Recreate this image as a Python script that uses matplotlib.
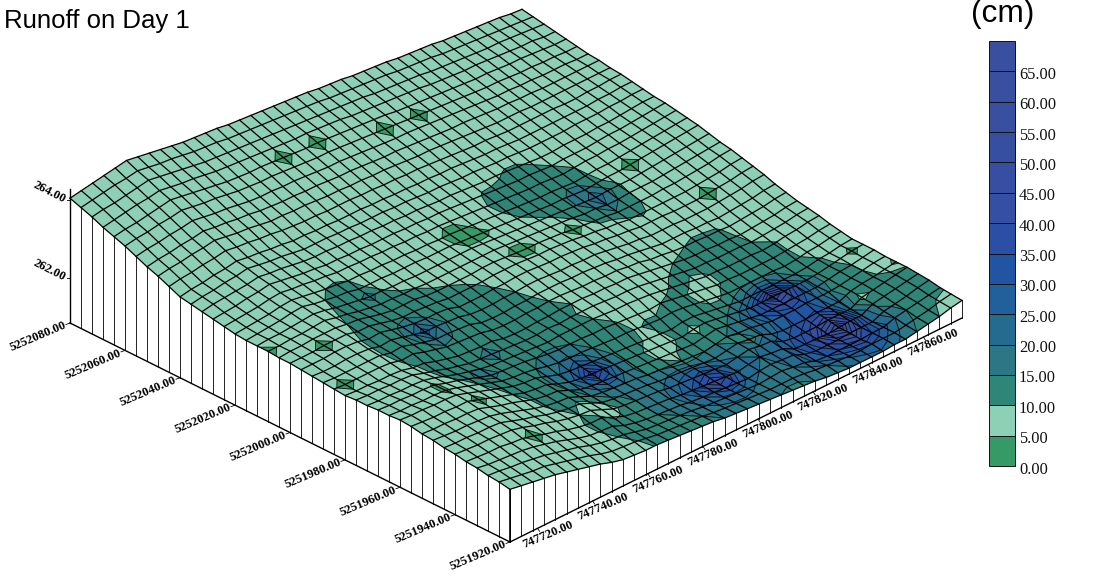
import numpy as np
import matplotlib
matplotlib.use("Agg")
import matplotlib.pyplot as plt

# grid extents of the surface
x_min, x_max = 747710.0, 747874.0
y_min, y_max = 5251920.0, 5252080.0
z_base = 260.85

x_ticks = [747720, 747740, 747760, 747780, 747800, 747820, 747840, 747860]
y_ticks = [5251920, 5251940, 5251960, 5251980, 5252000, 5252020, 5252040, 5252060, 5252080]
z_ticks = [262, 264]

legend_levels = [0, 5, 10, 15, 20, 25, 30, 35, 40, 45, 50, 55, 60, 65, 70]
legend_colors = ["#369A66", "#8ED0B5", "#2F8578", "#2B7785", "#256B90", "#21609C", "#2155A3",
                 "#2C4FA6", "#344FA4", "#364FA2", "#374FA1", "#38509F", "#38509F", "#38509F"]

# elevation, in 2.5 cm steps above z_base. rows go back along y, columns along x
elev_table = """
54 52 50 48 46 43 40 37 34 30 27 26 25 25 24 23 22 21 20 18 17 16 15 14 13 12 11 10 8 7 6 6 6 6 7 7 9 11 13 16 18
56 54 52 50 49 46 43 40 37 33 30 29 28 26 24 23 22 21 20 18 17 16 15 14 13 13 13 12 10 9 8 7 7 8 8 8 10 12 14 17 19
57 56 54 53 51 49 46 43 40 36 33 31 30 27 24 23 22 21 20 18 17 16 15 14 13 14 15 13 12 8 7 7 7 7 8 8 12 14 16 18 20
59 57 56 55 54 52 49 46 42 38 35 34 33 28 25 23 22 21 20 18 17 16 15 14 13 15 16 15 14 9 7 7 7 8 8 8 13 15 17 20 22
60 59 58 58 56 55 52 48 45 41 38 36 36 31 26 24 23 22 21 19 18 17 16 15 14 16 18 16 15 9 8 8 7 8 9 9 15 17 19 21 23
62 61 60 60 59 58 55 51 48 44 41 39 38 33 28 26 25 24 23 21 20 19 18 17 16 18 20 18 17 11 9 9 9 10 10 10 16 18 20 22 24
63 62 62 61 61 60 56 52 49 45 42 40 39 34 29 27 26 25 24 22 21 20 19 18 17 19 21 19 18 13 11 11 11 12 12 12 17 19 20 22 24
65 64 63 63 62 61 58 54 50 46 43 41 40 35 30 28 27 26 25 23 22 21 20 19 18 20 22 20 19 17 15 15 15 16 16 16 17 19 21 23 24
66 65 65 64 64 63 59 55 52 48 44 42 41 36 31 29 28 27 26 25 24 23 22 21 20 22 24 22 20 18 16 16 16 16 16 16 18 20 21 23 25
68 67 66 66 65 65 61 57 53 49 45 43 42 37 33 31 30 29 28 27 26 25 24 23 22 24 25 23 21 19 17 17 17 17 17 17 18 20 22 24 25
69 68 68 67 67 66 62 58 54 50 46 44 43 39 35 33 32 31 30 29 28 27 26 25 24 26 26 24 22 20 18 18 18 18 18 18 19 21 22 24 25
68 67 67 66 66 65 62 58 54 50 46 44 43 41 38 36 35 35 34 33 32 32 31 30 29 30 29 27 25 23 21 21 21 21 21 20 21 23 24 26 27
68 67 67 66 66 65 61 58 54 50 46 45 44 43 41 39 38 38 38 37 37 36 35 34 33 34 32 30 28 26 24 24 23 23 23 23 24 25 26 28 29
67 66 66 65 65 64 61 57 53 50 47 45 44 43 42 41 40 41 41 41 41 40 39 39 38 37 35 33 31 29 27 27 26 26 26 25 26 28 29 31 32
67 66 66 65 65 64 60 57 53 50 47 46 45 44 43 42 42 43 42 43 43 43 42 41 41 40 38 36 34 32 30 30 29 29 29 28 29 30 31 33 34
66 65 65 64 64 63 60 59 55 52 49 48 47 47 44 43 43 44 44 45 45 45 44 44 43 43 41 39 37 35 33 32 32 31 31 30 31 32 33 35 36
67 66 66 66 66 65 62 63 59 56 53 52 51 50 47 46 46 47 47 48 48 47 46 46 45 45 43 42 39 38 36 35 35 34 34 33 34 35 36 38 39
68 67 67 67 67 67 64 65 61 58 55 55 54 53 49 48 48 49 49 50 50 50 49 49 48 47 45 44 42 40 38 38 38 37 37 36 37 38 39 41 42
69 68 68 69 69 68 65 66 63 60 57 57 56 55 52 51 51 52 52 53 53 52 51 51 50 50 48 46 44 43 41 41 41 40 40 40 41 42 43 45 46
70 70 70 71 71 70 67 68 65 62 60 59 59 58 54 54 54 55 55 56 56 55 54 54 53 52 50 49 47 46 44 44 44 43 43 43 44 45 46 48 49
71 71 71 72 72 72 69 69 66 63 61 61 60 59 57 57 57 57 58 58 58 57 56 56 55 54 52 51 49 48 46 46 46 46 46 46 47 48 49 51 52
71 72 72 73 73 73 71 70 67 64 62 62 62 60 59 59 59 59 60 60 59 58 57 57 56 55 53 52 51 50 48 48 48 48 49 49 50 51 52 54 55
72 72 73 73 74 75 72 70 67 65 63 63 62 62 61 61 61 61 61 61 61 60 59 58 57 56 55 54 52 52 50 50 51 51 51 52 53 54 55 56 57
72 73 73 74 75 76 74 71 69 67 65 65 64 64 63 63 63 63 63 63 62 61 60 59 58 57 56 55 54 53 52 53 53 53 54 55 56 57 58 59 60
72 73 74 75 77 78 75 73 71 70 67 67 67 66 66 66 65 65 65 64 63 62 61 60 59 58 57 56 56 55 54 55 56 56 57 58 59 60 61 62 63
73 74 75 76 78 79 77 75 73 72 70 70 69 69 68 68 67 67 66 66 65 64 63 62 61 60 59 58 58 57 56 57 58 58 59 60 61 62 63 64 65
75 76 77 78 80 81 79 78 76 75 73 73 72 72 71 71 70 70 69 69 68 67 66 65 64 63 62 61 61 60 59 60 61 61 62 62 63 64 65 66 67
77 78 79 81 82 84 82 80 78 77 75 75 74 74 73 73 73 72 72 71 71 70 69 68 67 66 65 64 64 63 62 63 63 63 64 65 65 66 67 68 69
79 81 82 83 84 86 84 83 81 79 78 78 77 77 76 76 75 75 74 74 73 72 72 71 70 69 69 68 67 66 65 65 66 66 66 67 67 68 69 70 70
81 83 84 86 87 89 87 85 84 82 80 80 80 79 79 78 78 78 77 77 76 75 75 74 73 73 72 71 71 70 69 69 69 69 70 70 70 71 71 72 72
83 85 86 88 89 91 89 88 86 85 83 83 82 82 81 81 81 80 80 79 79 78 78 77 77 76 75 74 74 73 72 72 72 72 72 72 72 73 73 74 74
88 90 91 93 94 96 94 93 91 90 88 87 86 86 85 85 85 84 84 83 83 82 82 81 80 79 78 77 77 76 75 75 75 75 75 74 74 75 75 76 76
93 95 96 98 99 101 99 97 96 94 92 92 91 91 90 89 89 88 88 87 87 86 85 84 84 83 82 81 80 79 78 78 78 77 77 77 77 77 77 77 77
97 99 100 102 103 105 103 102 100 99 97 96 95 95 94 94 93 92 92 91 90 89 89 88 87 86 85 84 84 83 82 81 81 80 80 79 79 79 79 79 79
102 104 105 107 108 110 108 106 105 103 101 100 100 99 99 98 97 96 96 95 94 93 92 91 91 90 89 88 87 86 85 84 83 83 82 82 81 81 81 80 80
107 109 110 112 113 115 113 111 110 108 106 105 104 104 103 102 101 100 100 99 98 97 96 95 94 93 92 91 90 89 88 87 86 86 85 84 84 83 83 82 82
111 113 114 116 118 120 118 116 114 112 110 109 108 108 107 106 105 104 104 103 102 101 100 99 98 96 95 94 93 92 91 90 89 89 88 87 87 86 85 84 84
115 117 119 121 122 124 122 120 119 117 115 114 113 112 111 110 109 108 108 107 106 105 103 102 101 100 99 98 97 95 94 93 92 92 91 90 89 88 88 86 86
120 122 123 125 127 129 127 125 123 121 119 118 117 116 115 114 113 112 111 110 109 108 107 106 105 103 102 101 100 99 97 96 95 94 93 92 92 91 90 89 88
124 126 128 130 131 133 131 129 128 126 124 123 122 120 119 118 117 116 115 114 113 112 110 109 108 107 106 105 103 102 101 100 98 97 96 95 94 93 92 91 90
128 130 132 134 136 138 136 134 132 130 128 127 126 125 123 122 121 120 119 118 117 116 114 113 112 110 109 108 107 105 104 103 102 100 99 98 97 96 95 93 92
"""
elev = np.array([r.split() for r in elev_table.strip().splitlines()], dtype=float)

# runoff in cm at the same nodes
runoff = np.array([
    [7]*13 + [11,12,12,12,13,14,15,16,16,17,16,15,14,14,15,16,17,19,21,23,24,22,18,15,13,10,8,7],
    [7]*12 + [9,12,12,13,13,14,15,17,18,19,19,18,17,16,16,17,18,20,23,26,28,30,27,22,17,14,12,9,8],
    [7]*11 + [8,12,13,13,14,14,15,17,19,22,24,24,22,19,18,18,20,23,26,30,34,38,40,35,27,20,15,13,12,11],
    [7]*5 + [5.5,6,5.5,7,7,7] + [11,12,13,14,15,15,16,18,21,25,30,36,32,23,20,19,21,24,28,32,38,47,52,40,25,17,14,13,12,11],
    [7]*5 + [6,2,6,7,7,8] + [12,11,9,11,14,15,17,19,24,30,38,45,40,26,21,20,22,25,29,34,42,58,66,46,25,14,12,13,12,11],
    [7]*5 + [5.5,6,5.5,7,7,8,10,7,6,8] + [13,15,16,18,22,26,29,34,30,23,20,19,21,24,27,32,37,45,50,40,19,8,11,13,12,11],
    [7]*10 + [9,12,9,9,11,14,16,17,17,18,21,23,23,20,18,17,15,9,19,23,27,31,35,36,28,19,12,12,11,8,3],
    [7]*10 + [11,12,12,13,15,18,20,20,17,15,15,13,10,13,15,15,15,16,19,23,26,30,33,31,24,16,12,12,10,7,7],
    [7]*5 + [5.5,6,5.5,7,7] + [12,13,13,15,18,23,30,27,18,14,13,9,8,12,13,12,15,15,19,24,31,38,41,38,28,18,13,12,10,7,7],
    [7]*5 + [6,3,6,7,10] + [12,13,14,16,20,30,44,34,20,14,13,8,6,8,13,7,13,14,15,20,28,40,55,48,30,18,13,12,8,3,7],
    [7]*5 + [5.5,6,5.5,8,12] + [13,13,14,16,19,25,32,26,18,14,12,12,8,9,13,13,13,14,13,14,17,24,30,28,18,14,13,11,7,7,7],
    [7]*5 + [4,7,7,10,12,13,14,14,15,17,20,21,18,15,13,12,12,9,12,12,12,13,12,8,8,13,14,15,15,14,13,12,7,7,7,7],
    [7]*5 + [4,7,9,12,17,17,14,14,14,15,16,16,15,14,13,12,11,7,7,7,10,12,11,8,6,9,12,12,12,12,12,11,7,7,7,7],
    [7]*6 + [8,11,12,15,15,14,14] + [13]*6 + [12,10] + [7]*5 + [8,11,12,8,9] + [12]*5 + [11,7,7,7,7],
    [7]*6 + [8,12,12,12,13,15,19,13] + [12]*5 + [11,9] + [7]*6 + [8,11] + [12]*6 + [10] + [7]*5,
    [5.5,6,5.5,7,7,7] + [9] + [12]*5 + [14] + [12]*6 + [11,10] + [7]*8 + [10] + [12]*5 + [9] + [7]*5,
    [6,2,6,7,7,8,11,12,12,13,14,13] + [12]*7 + [10] + [7]*10 + [8,10,12,12,11] + [7]*6,
    [5.5,6,5.5,7,7,9,12,12,13,16,20,17] + [12]*7 + [8] + [7]*21,
    [7]*5 + [9,12,12,14,20,28,20,14] + [12]*5 + [10] + [7]*16 + [5.5,6,5.5] + [7]*3,
    [7]*2 + [5.5,6,5.5] + [9,12,12,13,17,20,16] + [12]*5 + [11] + [7]*17 + [6,2,6] + [7]*3,
    [7,7,6,2,6,8,11,12,12,12,14] + [12]*6 + [8,7,7,5.5,6,6,5.5,7,5.5,6,5.5,7,7,9,11,9,7,7,5.5,6,5.5,7,7,7],
    [6,5.5,5.5,6,5.5,7] + [10] + [12]*8 + [10] + [7,7,7,7,6,3,3,6,7,6,2,6,12,13,14,13,10] + [7]*8,
    [2,6,7,7,7,7,9] + [12]*6 + [10] + [7]*6 + [5.5,6,6,5.5,7,5.5,6.5,11,13,15,20,15,10] + [7]*8,
    [6,5.5,7,7,7,7,8,11,12,14,18,11] + [7]*7 + [5.5,6,6,5.5,7,7] + [8,11,12,14,18,24,17,11] + [5.5,6,5.5] + [7]*5,
    [7]*7 + [10,12,13,12,8] + [7]*6 + [6,4,3,4,6,7] + [9,12,12,13,14,17,18,12,8] + [6,2,6] + [7]*5,
    [7]*8 + [10,11,10] + [7]*7 + [6,3,3,6,7] + [8,11,12,13,13,14,14,13,11,7] + [5.5,6,5.5] + [7]*5,
    [7]*18 + [5.5,6,6,5.5,7,9] + [12]*7 + [10] + [7]*9,
    [7]*24 + [11] + [12]*5 + [10] + [7]*10,
    [7]*26 + [9,11,11,9] + [7]*11,
    [7]*41,
    [7]*41,
    [7]*41,
    [7]*41,
    [7]*41,
    [7]*22 + [5.5,6,5.5,5.5,6,5.5] + [7]*13,
    [7]*14 + [5.5,6,5.5,5.5,6,5.5,7,7,6,2,6,6,2,6] + [7]*13,
    [7]*14 + [6,2,6,6,2,6,7,7,5.5,6,5.5,5.5,6,5.5] + [7]*13,
    [7]*14 + [5.5,6,5.5,5.5,6,5.5] + [7]*21,
    [7]*41,
    [7]*41,
    [7]*41,
], dtype=float)

n_y, n_x = elev.shape
x_nodes = np.linspace(x_min, x_max, n_x)
y_nodes = np.linspace(y_min, y_max, n_y)
X, Y = np.meshgrid(x_nodes, y_nodes)
Z = z_base + elev * 0.025


def project(x, y, z):
    u = (np.asarray(x) - x_min) / (x_max - x_min)
    v = (np.asarray(y) - y_min) / (y_max - y_min)
    px = 510 + 452 * u - 440 * v
    py = 542 - 224 * u - 219 * v - 39 * (np.asarray(z) - z_base)
    return px, py


fig = plt.figure(figsize=(11.17, 5.76), dpi=100)
ax = fig.add_axes([0, 0, 1, 1])
ax.set_xlim(0, 1117)
ax.set_ylim(576, 0)
ax.axis("off")

PX, PY = project(X, Y, Z)

# walls under the surface
for k in range(n_y):
    xb, yb = project(x_min, y_nodes[k], z_base)
    ax.plot([xb, xb], [yb, PY[k, 0]], color="#222222", lw=0.7, zorder=1)
for k in range(n_x):
    xb, yb = project(x_nodes[k], y_min, z_base)
    ax.plot([xb, xb], [yb, PY[0, k]], color="#222222", lw=0.7, zorder=1)

# floor edges and z axis
fx, fy = project([x_min, x_min, x_max], [y_max, y_min, y_min], z_base)
ax.plot(fx, fy, color="black", lw=1.0, zorder=2)
ax.plot([fx[1], fx[1]], [fy[1], PY[0, 0]], color="black", lw=1.2, zorder=2)
zx, ztop = project(x_min, y_max, 264.28)
ax.plot([zx, zx], [fy[0], ztop], color="black", lw=1.0, zorder=2)

# surface colours
ax.contourf(PX, PY, runoff, levels=legend_levels, colors=legend_colors, zorder=3, antialiased=True)
ax.contour(PX, PY, runoff, levels=legend_levels[1:-1], colors="black", linewidths=0.6, zorder=4)

# mesh
for k in range(n_y):
    ax.plot(PX[k, :], PY[k, :], color="black", lw=0.9, zorder=5)
for k in range(n_x):
    ax.plot(PX[:, k], PY[:, k], color="black", lw=0.9, zorder=5)

# tick labels
tick_font = dict(family="Liberation Serif", fontsize=9.2, fontweight="bold", color="black", zorder=6)
for v in y_ticks:
    tx, ty = project(x_min, v, z_base)
    ax.plot([tx, tx - 4], [ty, ty + 1.5], color="black", lw=0.6, zorder=2)
    ax.text(tx - 4, ty + 2, "%.2f" % v, rotation=23, rotation_mode="anchor", ha="right", va="center", **tick_font)
for v in x_ticks:
    tx, ty = project(v, y_min, z_base)
    ax.plot([tx, tx + 2], [ty, ty + 3], color="black", lw=0.6, zorder=2)
    ax.text(tx + 10, ty + 6, "%.2f" % v, rotation=23, rotation_mode="anchor", ha="center", va="center", **tick_font)
for v in z_ticks:
    tx, ty = project(x_min, y_max, v)
    ax.plot([tx - 3, tx], [ty, ty], color="black", lw=0.6, zorder=2)
    ax.text(tx - 5, ty, "%.2f" % v, rotation=-27, rotation_mode="anchor", ha="right", va="center", **tick_font)

# legend bar
bar_bottom, bar_step = 466.0, 425.0 / 14
for k, c in enumerate(legend_colors):
    y1 = bar_bottom - k * bar_step
    ax.bar(1001.5, -bar_step, bottom=y1, width=26, color=c, edgecolor="#111111", lw=0.7, zorder=3)
for k, v in enumerate(legend_levels[:-1]):
    ax.text(1019, bar_bottom - k * bar_step + 3.5, "%.2f" % v, family="Liberation Serif", fontsize=11.8,
            color="#111111", ha="left", va="center")

ax.text(4, 28, "Runoff on Day 1", family="Liberation Sans", fontsize=18.5, color="black", ha="left", va="baseline")
ax.text(1003, 22, "(cm)", family="Liberation Sans", fontsize=22.8, color="black", ha="center", va="baseline")

fig.savefig("out.png", dpi=100)
